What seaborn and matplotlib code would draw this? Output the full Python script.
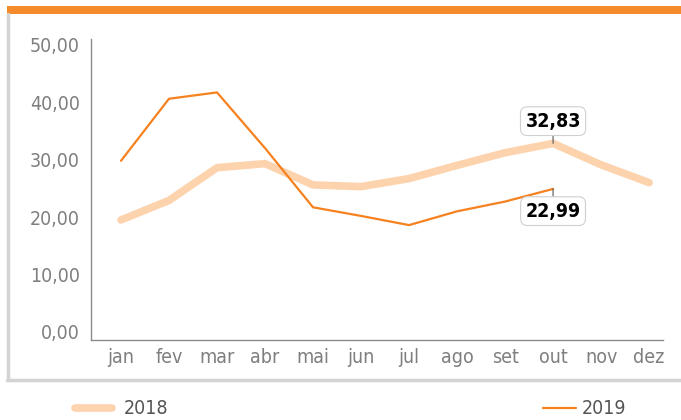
import matplotlib
matplotlib.use("Agg")
import matplotlib.pyplot as plt
import matplotlib.ticker as mticker
from matplotlib.lines import Line2D
from matplotlib.patches import Rectangle
import pandas as pd
import seaborn as sns

months = ['jan', 'fev', 'mar', 'abr', 'mai', 'jun', 'jul', 'ago', 'set', 'out', 'nov', 'dez']
values_2018 = [19.5, 22.9, 28.6, 29.3, 25.6, 25.3, 26.7, 29.0, 31.2, 32.83, 29.1, 26.0]
values_2019 = [29.8, 40.6, 41.7, 32.0, 21.7, 20.2, 18.6, 21.0, 22.7, 24.9]
label_texts = {'2018': '32,83', '2019': '22,99'}
y_ticks = [0, 10, 20, 30, 40, 50]

df = pd.concat([
    pd.DataFrame({'mes': range(len(values_2018)), 'valor': values_2018, 'ano': '2018'}),
    pd.DataFrame({'mes': range(len(values_2019)), 'valor': values_2019, 'ano': '2019'}),
])

sns.set_style("white")
plt.rcParams['font.family'] = ['DejaVu Sans']
plt.rcParams['font.stretch'] = 'condensed'

light = '#FDD3AE'
orange = '#F5821F'
grey_txt = '#7f7f7f'

fig = plt.figure(figsize=(6.81, 4.20), dpi=100)
ax = fig.add_axes([91 / 681, 80 / 420, 572 / 681, 301 / 420])

sns.lineplot(data=df[df['ano'] == '2018'], x='mes', y='valor', color=light,
             linewidth=5.5, solid_capstyle='round', ax=ax, label='2018')
sns.lineplot(data=df[df['ano'] == '2019'], x='mes', y='valor', color=orange,
             linewidth=1.6, ax=ax, label='2019')

ax.set_xlim(-0.625, 11.29)
ax.set_ylim(-1.4, 51.0)
ax.set_xticks(range(len(months)))
ax.set_xticklabels(months)
ax.set_yticks(y_ticks)
ax.yaxis.set_major_formatter(mticker.FuncFormatter(lambda v, p: f"{v:.2f}".replace('.', ',')))
ax.set_xlabel('')
ax.set_ylabel('')
ax.tick_params(axis='both', length=0, labelsize=14, colors=grey_txt, pad=8)
ax.tick_params(axis='x', pad=6)

for side in ['top', 'right']:
    ax.spines[side].set_visible(False)
for side in ['left', 'bottom']:
    ax.spines[side].set_color('#8c8c8c')
    ax.spines[side].set_linewidth(1.0)

# data labels at 'out'
box = dict(boxstyle='round,pad=0.25,rounding_size=0.35', fc='white', ec='#d0d0d0', lw=0.8)
arrow = dict(arrowstyle='-', color='#555555', lw=0.8, shrinkA=0, shrinkB=0)
ax.annotate(label_texts['2018'], xy=(9, values_2018[9]), xytext=(0, 16), textcoords='offset points',
            ha='center', va='center', fontsize=14, fontweight='bold', color='black',
            bbox=box, arrowprops=arrow)
ax.annotate(label_texts['2019'], xy=(9, values_2019[9]), xytext=(0, -16), textcoords='offset points',
            ha='center', va='center', fontsize=14, fontweight='bold', color='black',
            bbox=box, arrowprops=arrow)

# legend entries placed apart
ax.get_legend().remove()
h1 = Line2D([], [], color=light, linewidth=5.5, solid_capstyle='round')
h2 = Line2D([], [], color=orange, linewidth=1.6)
fig.legend([h1], ['2018'], loc='center left', bbox_to_anchor=(75 / 681, 11 / 420),
           frameon=False, fontsize=14, handlelength=1.9, handletextpad=0.6,
           labelcolor='#555555', borderaxespad=0, borderpad=0)
fig.legend([h2], ['2019'], loc='center left', bbox_to_anchor=(543 / 681, 11 / 420),
           frameon=False, fontsize=14, handlelength=1.7, handletextpad=0.3,
           labelcolor='#555555', borderaxespad=0, borderpad=0)

# frame decorations
fig.add_artist(Rectangle((7 / 681, 406 / 420), 674 / 681, 8 / 420, transform=fig.transFigure,
                         color='#F58A2A', lw=0))
fig.add_artist(Line2D([7.5 / 681, 7.5 / 681], [40 / 420, 406 / 420], transform=fig.transFigure,
                      color='#d3d3d3', lw=2.5))
fig.add_artist(Line2D([7 / 681, 1.0], [40 / 420, 40 / 420], transform=fig.transFigure,
                      color='#d3d3d3', lw=2.5))

fig.savefig('out.png', dpi=100)
